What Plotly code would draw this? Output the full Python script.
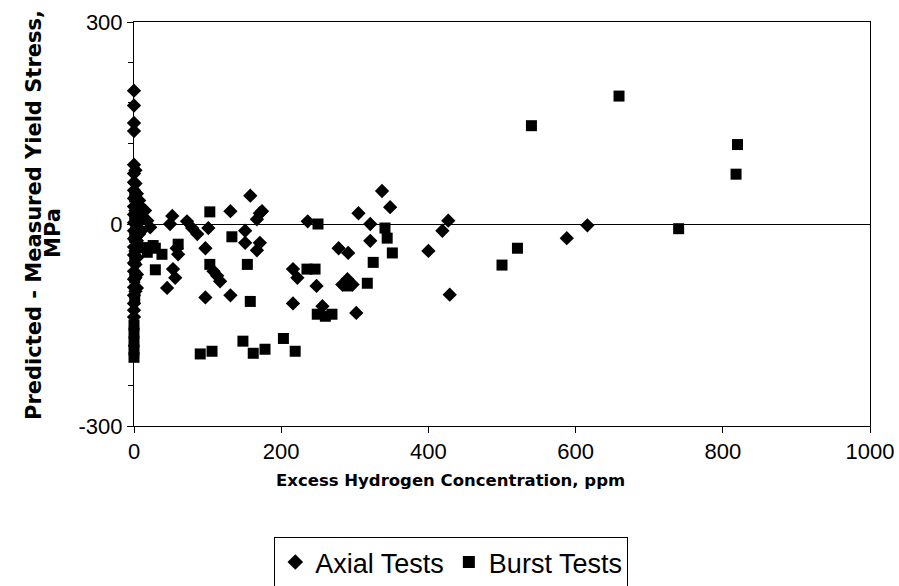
import plotly.graph_objects as go

# Axial tests (diamonds)
axial_x = [0, 0, 0, 0, 0, 0, 0, 0, 0, 0, 0, 0, 0, 0, 0, 0, 0, 0, 0, 0, 0, 0, 0, 0,
           2, 2, 2, 2, 2, 2, 2, 2, 2, 2,
           4, 4, 4, 4, 4, 4, 4, 4,
           7, 7, 7, 7, 7,
           10, 10, 10, 15, 18, 22,
           49, 52, 58, 60, 53, 56, 45, 72, 79, 86, 101, 97, 108, 113, 117, 97, 131, 131,
           158, 171, 167, 174, 151, 151, 171, 167, 236, 305, 337, 348, 321, 321, 400,
           278, 291, 216, 222, 248, 283, 290, 297, 216, 256, 302, 427, 419, 429, 588, 616]
axial_y = [198, 176, 150, 138, 88, 75, 62, 50, 38, 26, 14, 2, -10, -22, -34, -46, -58, -70, -82, -94, -106, -118, -128, -138,
           80, 60, 40, 20, 0, -20, -40, -60, -80, -100,
           45, 30, 10, -5, -25, -50, -75, -95,
           35, 20, 5, -15, -35,
           25, 8, -10, 20, 5, -5,
           0, 12, -36, -45, -67, -80, -95, 4, -6, -15, -6, -36, -70, -77, -85, -109, -106, 19,
           42, 16, 7, 19, -10, -28, -28, -39, 4, 16, 49, 25, 0, -25, -40,
           -36, -43, -67, -80, -92, -90, -82, -90, -118, -122, -132, 5, -10, -105, -21, -2]

# Burst tests (squares)
burst_x = [0, 0, 0, 0, 0, 1, 1, 1, 1, 1, 1,
           12, 18, 26, 29, 38, 60, 29, 103, 133, 103, 154, 158,
           90, 106, 148, 162, 178, 203, 219, 235, 246, 250, 290, 317, 325,
           341, 344, 351, 249, 260, 269, 500, 521, 540, 659, 740, 818, 820]
burst_y = [-150, -162, -175, -187, -198, 40, 10, -20, -50, -80, -110,
           -35, -42, -32, -36, -45, -30, -68, 18, -19, -60, -60, -115,
           -193, -189, -174, -192, -186, -170, -189, -67, -67, 0, -92, -88, -57,
           -6, -21, -43, -134, -137, -134, -61, -36, 146, 190, -7, 74, 118]

x_ticks = [0, 200, 400, 600, 800, 1000]
y_ticks = [-300, 0, 300]

x_title = "Excess Hydrogen Concentration, ppm"
y_title_1 = "Predicted - Measured Yield Stress,"
y_title_2 = "MPa"

font_family = "Liberation Sans, Arial, sans-serif"
title_family = "DejaVu Sans, Liberation Sans, Arial, sans-serif"

fig = go.Figure()
fig.add_trace(go.Scatter(x=axial_x, y=axial_y, mode="markers", name="Axial Tests",
                         cliponaxis=False,
                         marker=dict(symbol="diamond", size=11, color="black",
                                     line=dict(width=0))))
fig.add_trace(go.Scatter(x=burst_x, y=burst_y, mode="markers", name="Burst Tests",
                         cliponaxis=False,
                         marker=dict(symbol="square", size=11, color="black",
                                     line=dict(width=0))))

fig.update_layout(
    width=899, height=586,
    margin=dict(l=134, r=29, t=22, b=160, autoexpand=False),
    paper_bgcolor="white", plot_bgcolor="white",
    font=dict(family=font_family, color="black", size=22),
    showlegend=True,
    legend=dict(orientation="h", xref="container", yref="container",
                x=0.502, xanchor="center", y=1 - 537 / 586, yanchor="top",
                bordercolor="black", borderwidth=1, bgcolor="white",
                font=dict(size=27, family=font_family), itemsizing="constant"),
    xaxis=dict(range=[0, 1000], tickvals=x_ticks, ticktext=[str(v) for v in x_ticks],
               showgrid=False, zeroline=False, showline=True, linecolor="black",
               linewidth=1, mirror=True, ticks="outside", ticklen=6, automargin=False,
               tickcolor="black", tickfont=dict(size=22)),
    yaxis=dict(range=[-300, 300], tickvals=y_ticks, ticktext=[str(v) for v in y_ticks],
               showgrid=False, zeroline=True, zerolinecolor="black", zerolinewidth=1,
               showline=True, linecolor="black", linewidth=1, mirror=True, automargin=False,
               ticks="outside", ticklen=6, tickcolor="black", tickfont=dict(size=22),
               minor=dict(dtick=60, tick0=0, ticks="outside", ticklen=5, tickcolor="black")),
    annotations=[
        dict(text=f"<b>{x_title}</b>", xref="paper", yref="paper",
             x=(450 - 134) / 736, y=(426 - 481) / 404, xanchor="center", yanchor="middle",
             showarrow=False, font=dict(size=16.5, family=title_family)),
        dict(text=f"<b>{y_title_1}</b>", xref="paper", yref="paper", textangle=-90,
             x=(34 - 134) / 736, y=(426 - 215) / 404, xanchor="center", yanchor="middle",
             showarrow=False, font=dict(size=21, family=title_family)),
        dict(text=f"<b>{y_title_2}</b>", xref="paper", yref="paper", textangle=-90,
             x=(53 - 134) / 736, y=(426 - 233) / 404, xanchor="center", yanchor="middle",
             showarrow=False, font=dict(size=21, family=title_family)),
    ],
)

fig.write_html("out.html")
